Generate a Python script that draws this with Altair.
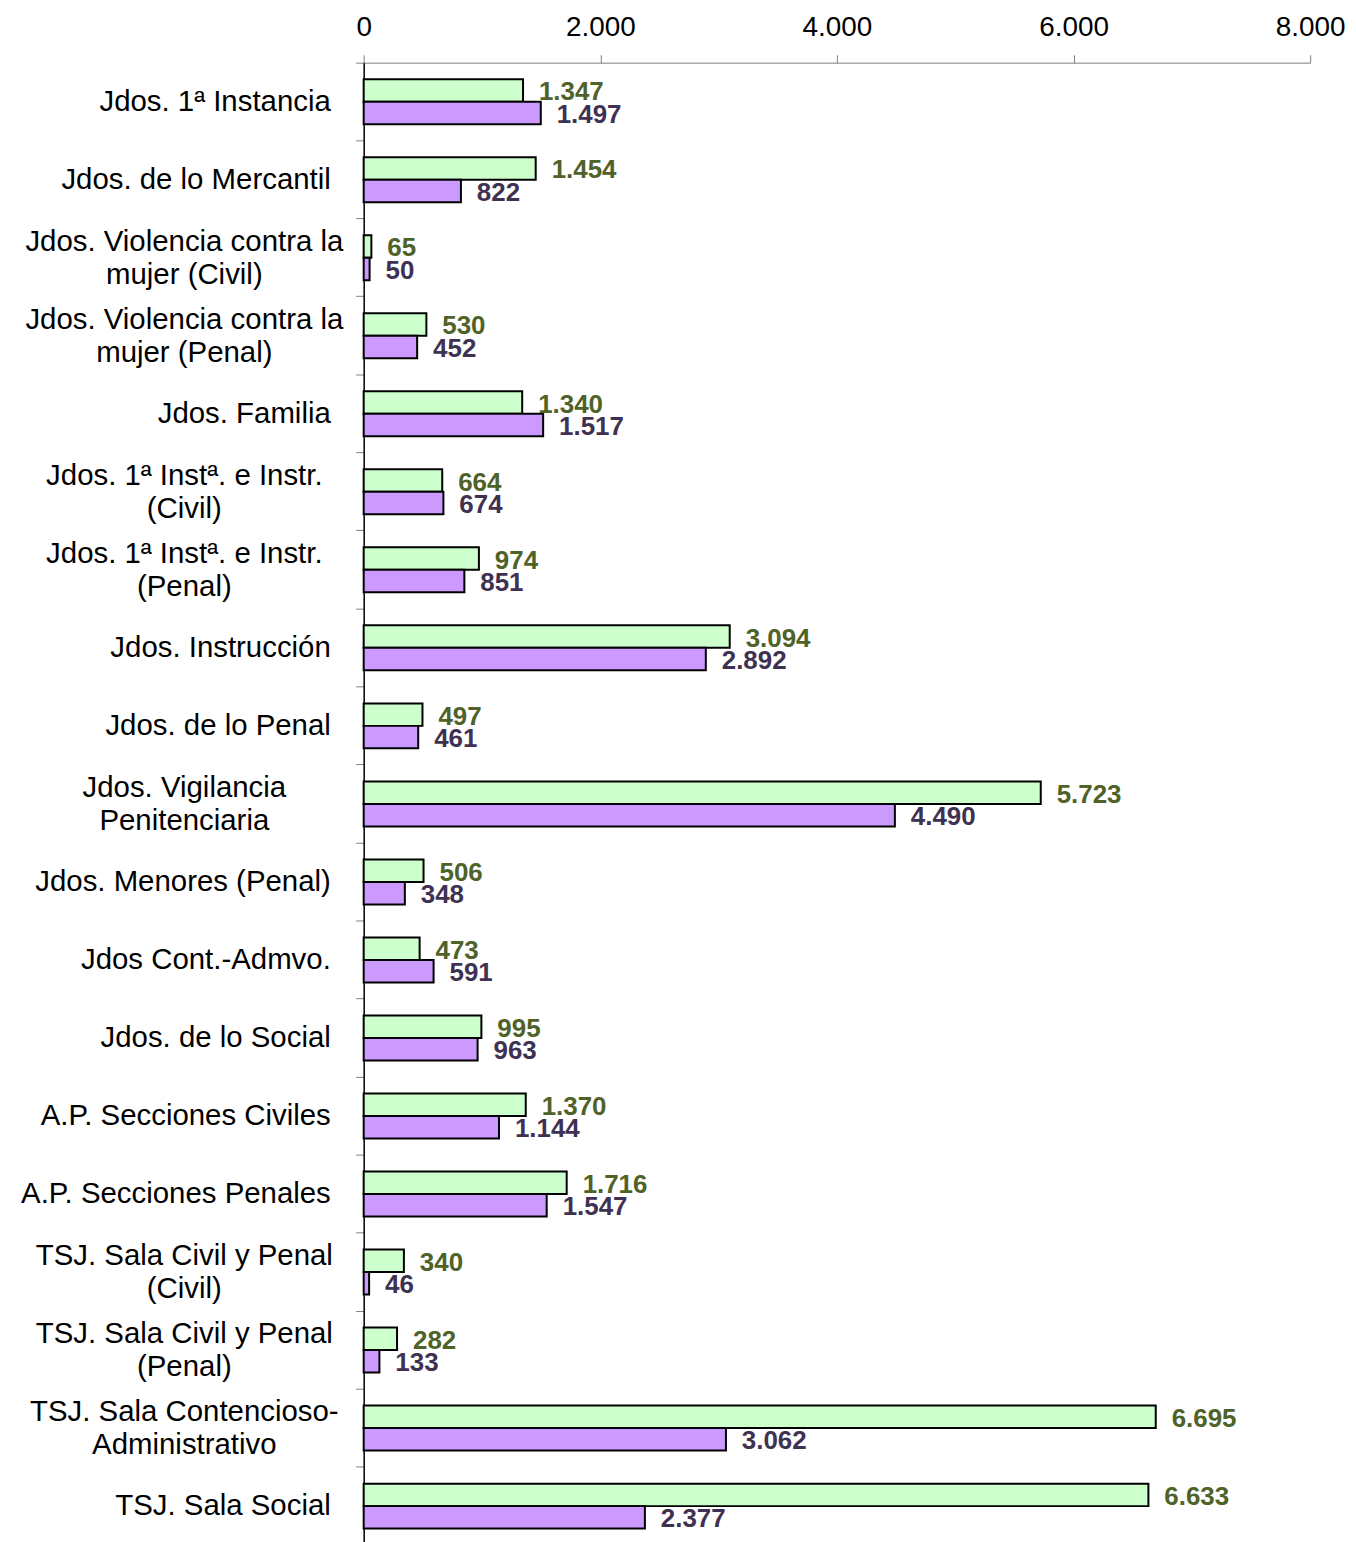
import altair as alt
import pandas as pd

FONT = "Arial, Liberation Sans, sans-serif"

categories = [
    "Jdos. 1ª Instancia",
    "Jdos. de lo Mercantil",
    "Jdos. Violencia contra la\nmujer (Civil)",
    "Jdos. Violencia contra la\nmujer (Penal)",
    "Jdos. Familia",
    "Jdos. 1ª Instª. e Instr.\n(Civil)",
    "Jdos. 1ª Instª. e Instr.\n(Penal)",
    "Jdos. Instrucción",
    "Jdos. de lo Penal",
    "Jdos. Vigilancia\nPenitenciaria",
    "Jdos. Menores (Penal)",
    "Jdos Cont.-Admvo.",
    "Jdos. de lo Social",
    "A.P. Secciones Civiles",
    "A.P. Secciones Penales",
    "TSJ. Sala Civil y Penal\n(Civil)",
    "TSJ. Sala Civil y Penal\n(Penal)",
    "TSJ. Sala Contencioso-\nAdministrativo",
    "TSJ. Sala Social",
]
serie1 = [1347, 1454, 65, 530, 1340, 664, 974, 3094, 497, 5723, 506, 473, 995,
          1370, 1716, 340, 282, 6695, 6633]
serie2 = [1497, 822, 50, 452, 1517, 674, 851, 2892, 461, 4490, 348, 591, 963,
          1144, 1547, 46, 133, 3062, 2377]
series_names = ["Serie 1", "Serie 2"]
x_ticks = [0, 2000, 4000, 6000, 8000]

rows = []
for c, a, b in zip(categories, serie1, serie2):
    rows.append({"cat": c, "serie": series_names[0], "valor": a})
    rows.append({"cat": c, "serie": series_names[1], "valor": b})
df = pd.DataFrame(rows)
cat_df = pd.DataFrame({"cat": categories, "multi": ["\n" in c for c in categories]})

y_scale = alt.Scale(domain=categories, paddingInner=0, paddingOuter=0)
y_axis = alt.Axis(title=None, labels=False, bandPosition=0, tickSize=8,
                  tickColor="#808080", domainColor="#000000", domainWidth=1.5)
y_enc = alt.Y("cat:N", scale=y_scale, axis=y_axis)

x_enc = alt.X(
    "valor:Q",
    scale=alt.Scale(domain=[0, 8000], nice=False),
    axis=alt.Axis(
        orient="top", values=x_ticks, title=None, grid=False,
        labelExpr="replace(format(datum.value, ','), ',', '.')",
        labelFontSize=28, labelFont=FONT, labelColor="black",
        labelPadding=13, labelFlush=False, tickSize=8,
        tickColor="#808080", domainColor="#808080",
    ),
)
yoff = alt.YOffset("serie:N", scale=alt.Scale(domain=series_names,
                                               paddingOuter=0.735, paddingInner=0))

bars = alt.Chart(df).mark_bar(stroke="black", strokeWidth=2).encode(
    x=x_enc, y=y_enc, yOffset=yoff,
    fill=alt.Fill("serie:N", scale=alt.Scale(domain=series_names,
                                             range=["#CCFFCC", "#CC99FF"]), legend=None),
)

values = alt.Chart(df).transform_calculate(
    lbl="replace(format(datum.valor, ','), ',', '.')"
).mark_text(align="left", baseline="middle", dx=16, dy=2, fontSize=26,
            fontWeight="bold", font=FONT).encode(
    x=x_enc, y=y_enc, yOffset=yoff,
    text=alt.Text("lbl:N"),
    color=alt.Color("serie:N", scale=alt.Scale(domain=series_names,
                                               range=["#4F6228", "#3F3151"]), legend=None),
)

single = alt.Chart(cat_df).transform_filter("!datum.multi").mark_text(
    align="right", baseline="middle", fontSize=29.5, font=FONT, color="black",
    lineBreak="\n"
).encode(y=y_enc, x=alt.value(-33), text="cat:N")

multi = alt.Chart(cat_df).transform_filter("datum.multi").mark_text(
    align="center", baseline="middle", fontSize=29.5, font=FONT, color="black",
    lineBreak="\n", lineHeight=33, dy=-16
).encode(y=y_enc, x=alt.value(-180), text="cat:N")

chart = alt.layer(bars, values, single, multi).resolve_scale(
    fill="independent", color="independent"
).properties(
    width=950, height=1488,
    autosize=alt.AutoSizeParams(type="none"),
    padding={"left": 357, "top": 52, "right": 38, "bottom": 0},
).configure_view(stroke=None)

chart.save("out.html", embed_options={"renderer": "svg", "actions": False})
